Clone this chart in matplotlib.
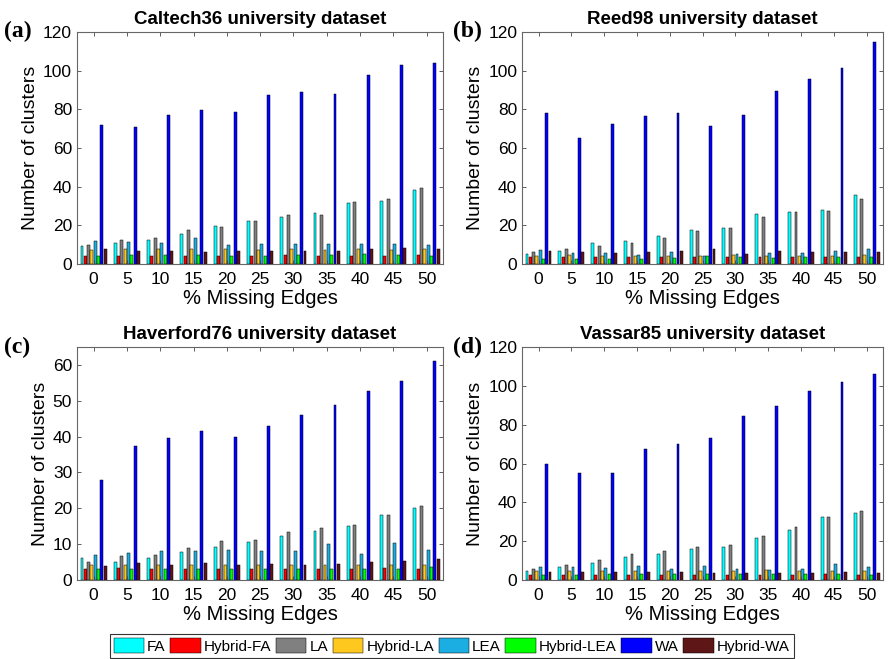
import matplotlib
matplotlib.use("Agg")
import matplotlib.pyplot as plt
import numpy as np

plt.rcParams['font.family'] = ['Liberation Sans', 'DejaVu Sans']

missing = [0, 5, 10, 15, 20, 25, 30, 35, 40, 45, 50]
series = ['FA', 'Hybrid-FA', 'LA', 'Hybrid-LA', 'LEA', 'Hybrid-LEA', 'WA', 'Hybrid-WA']
colors = ['#00FFFF', '#FF0000', '#808080', '#FFC81E', '#1AAEE3', '#00FF00', '#0000FF', '#5E1616']

# Caltech36
a_FA   = [9.2, 10.9, 12.3, 15.7, 19.8, 22.2, 24.1, 26.5, 31.8, 32.5, 38.3]
a_HFA  = [4.1, 4.1, 4.1, 4.1, 4.3, 4.1, 4.6, 4.1, 4.3, 4.1, 4.6]
a_LA   = [10.0, 12.6, 13.2, 17.4, 19.3, 22.4, 25.6, 25.6, 32.1, 33.7, 39.1]
a_HLA  = [7.2, 7.5, 7.5, 7.5, 7.5, 7.4, 7.7, 7.4, 7.7, 7.4, 7.7]
a_LEA  = [11.8, 11.5, 11.1, 13.2, 9.6, 10.3, 10.6, 10.3, 10.6, 10.3, 9.6]
a_HLEA = [4.1, 4.4, 4.4, 4.4, 4.1, 4.1, 4.6, 4.4, 5.0, 4.4, 3.9]
a_WA   = [71.8, 70.8, 76.9, 79.5, 78.5, 87.2, 89.2, 87.7, 98.0, 103.0, 104.0]
a_HWA  = [8.0, 6.5, 6.5, 6.2, 6.5, 6.5, 6.8, 6.8, 7.7, 8.4, 8.0]

# Reed98
b_FA   = [5.0, 6.8, 11.1, 12.0, 14.7, 17.4, 18.5, 26.0, 27.0, 27.7, 35.7]
b_HFA  = [3.4, 3.4, 3.4, 3.4, 3.4, 3.4, 3.6, 3.8, 3.6, 3.6, 3.6]
b_LA   = [6.0, 8.0, 9.4, 11.1, 13.2, 17.1, 18.5, 24.4, 27.0, 27.4, 33.7]
b_HLA  = [4.3, 4.4, 3.9, 4.3, 4.1, 4.1, 4.4, 3.9, 3.9, 3.9, 4.4]
b_LEA  = [7.2, 5.8, 5.8, 4.8, 6.0, 4.1, 5.1, 5.5, 5.5, 6.8, 7.7]
b_HLEA = [2.7, 2.7, 2.7, 2.7, 3.2, 3.9, 3.6, 2.9, 3.6, 3.4, 3.6]
b_WA   = [78.0, 65.0, 72.3, 76.4, 78.0, 71.3, 76.9, 89.7, 95.9, 101.5, 114.9]
b_HWA  = [6.5, 6.2, 5.5, 6.2, 6.8, 7.9, 5.3, 6.5, 6.0, 6.0, 6.0]

# Haverford76
c_FA   = [6.0, 4.9, 6.2, 7.7, 9.2, 10.5, 12.4, 13.6, 15.1, 18.1, 20.1]
c_HFA  = [3.0, 3.3, 3.0, 3.0, 3.0, 3.0, 3.2, 3.2, 3.2, 3.4, 3.0]
c_LA   = [4.9, 6.6, 6.9, 8.8, 10.8, 11.1, 13.3, 14.5, 15.3, 18.1, 20.7]
c_HLA  = [4.1, 4.1, 4.1, 4.1, 4.1, 4.1, 4.1, 4.1, 4.1, 4.1, 4.2]
c_LEA  = [7.1, 7.4, 8.0, 8.0, 8.3, 8.1, 8.1, 10.1, 7.3, 10.2, 8.3]
c_HLEA = [3.0, 3.0, 3.0, 3.0, 3.0, 3.0, 3.0, 3.0, 3.0, 3.2, 3.6]
c_WA   = [28.0, 37.5, 39.5, 41.7, 40.0, 43.1, 46.0, 48.7, 52.7, 55.5, 61.0]
c_HWA  = [3.8, 4.8, 4.3, 4.6, 4.3, 4.5, 4.2, 4.5, 4.9, 5.3, 5.8]

# Vassar85
d_FA   = [4.7, 6.6, 8.8, 11.7, 13.6, 16.0, 17.2, 21.6, 25.7, 32.4, 34.7]
d_HFA  = [2.6, 2.6, 2.6, 2.6, 2.8, 2.8, 2.8, 2.8, 2.8, 3.1, 2.8]
d_LA   = [5.9, 7.8, 10.2, 13.4, 14.7, 16.9, 18.1, 22.8, 27.1, 32.4, 35.3]
d_HLA  = [4.7, 4.7, 4.8, 4.7, 4.7, 4.8, 4.7, 5.0, 4.7, 4.7, 4.7]
d_LEA  = [6.9, 6.9, 6.0, 7.4, 5.7, 7.4, 5.9, 5.0, 5.9, 8.1, 6.6]
d_HLEA = [2.8, 2.8, 3.1, 2.9, 2.9, 3.3, 3.3, 3.1, 3.3, 3.3, 2.8]
d_WA   = [60.0, 55.3, 55.3, 67.7, 69.8, 72.9, 84.3, 89.5, 97.3, 102.0, 106.0]
d_HWA  = [4.1, 4.1, 4.3, 4.3, 4.1, 3.8, 3.8, 3.8, 3.8, 4.1, 3.8]

panels = [
    ('(a)', 'Caltech36 university dataset',
     [a_FA, a_HFA, a_LA, a_HLA, a_LEA, a_HLEA, a_WA, a_HWA], 120, np.arange(0, 121, 20)),
    ('(b)', 'Reed98 university dataset',
     [b_FA, b_HFA, b_LA, b_HLA, b_LEA, b_HLEA, b_WA, b_HWA], 120, np.arange(0, 121, 20)),
    ('(c)', 'Haverford76 university dataset',
     [c_FA, c_HFA, c_LA, c_HLA, c_LEA, c_HLEA, c_WA, c_HWA], 65, np.arange(0, 61, 10)),
    ('(d)', 'Vassar85 university dataset',
     [d_FA, d_HFA, d_LA, d_HLA, d_LEA, d_HLEA, d_WA, d_HWA], 120, np.arange(0, 121, 20)),
]

positions = [
    [0.0864, 0.5994, 0.411, 0.352],
    [0.586, 0.5994, 0.405, 0.352],
    [0.0864, 0.1199, 0.411, 0.3535],
    [0.586, 0.1199, 0.405, 0.3535],
]
label_xy = [(0.004, 0.953), (0.508, 0.953), (0.004, 0.472), (0.508, 0.472)]

fig = plt.figure(figsize=(8.91, 6.59), dpi=100)
x = np.arange(1, len(missing) + 1)
n = len(series)
step = 0.1
width = 0.088
handles = None
for (lab, title, data, ymax, yt), pos, lxy in zip(panels, positions, label_xy):
    ax = fig.add_axes(pos)
    hs = []
    for i, (vals, col) in enumerate(zip(data, colors)):
        off = (i - (n - 1) / 2) * step
        h = ax.bar(x + off, vals, width=width, color=col, edgecolor='black',
                   linewidth=0.35, label=series[i])
        hs.append(h)
    handles = hs
    ax.set_xlim(0.5, len(missing) + 0.5)
    ax.set_ylim(0, ymax)
    ax.set_yticks(yt)
    ax.set_xticks(x)
    ax.set_xticklabels([str(m) for m in missing])
    ax.tick_params(axis='both', direction='in', top=True, right=True, length=3, width=0.6,
                   colors='#444444', labelcolor='black', labelsize=12.5)
    ax.tick_params(axis='x', pad=6)
    for s in ax.spines.values():
        s.set_color('#666666')
        s.set_linewidth(0.8)
    ax.set_xlabel('% Missing Edges', fontsize=14.5, labelpad=1)
    ax.set_ylabel('Number of clusters', fontsize=14, labelpad=3)
    ax.set_title(title, fontsize=13.5, fontweight='bold', pad=6)
    fig.text(lxy[0], lxy[1], lab, fontsize=17, fontweight='bold',
             family=['Liberation Serif', 'DejaVu Serif'], ha='left', va='center')

leg = fig.legend(handles, series, loc='center', bbox_to_anchor=(0.507, 0.0197),
                 ncol=8, fontsize=11, frameon=True, fancybox=False,
                 edgecolor='black', handlelength=2.0, handleheight=1.1,
                 handletextpad=0.2, columnspacing=0.3, borderpad=0.25,
                 borderaxespad=0.1)
leg.get_frame().set_linewidth(0.8)

fig.savefig('out.png', dpi=100)
